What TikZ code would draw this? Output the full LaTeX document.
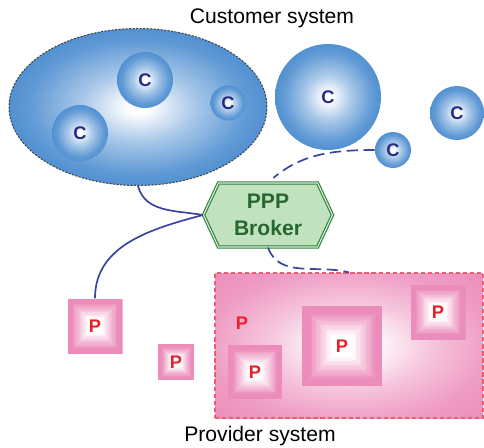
\documentclass[tikz,border=0pt]{standalone}
\usepackage{fontspec}
\setmainfont{Liberation Sans}
\usetikzlibrary{shapes.geometric, shapes.symbols, calc}

\definecolor{cblue}{RGB}{62,132,204}
\definecolor{cnavy}{RGB}{38,44,132}
\definecolor{ppink}{RGB}{236,140,186}
\definecolor{pred}{RGB}{232,32,40}
\definecolor{pborder}{RGB}{238,92,112}
\definecolor{bgreen}{RGB}{50,128,60}
\definecolor{bfill}{RGB}{192,226,190}
\definecolor{bline}{RGB}{58,68,160}

\pgfdeclareradialshading{blueball}{\pgfpoint{0bp}{0bp}}{color(0bp)=(white); color(2bp)=(white); color(11bp)=(cblue!45!white); color(21bp)=(cblue!82!white); color(30bp)=(cblue); color(50bp)=(cblue)}
\pgfdeclareradialshading{pinkglow}{\pgfpoint{0bp}{0bp}}{color(0bp)=(white); color(4bp)=(white); color(15bp)=(ppink!50!white); color(26bp)=(ppink!85!white); color(36bp)=(ppink); color(50bp)=(ppink)}

\begin{document}
\begin{tikzpicture}[
    x=0.025cm, y=-0.025cm,
    custc/.style={circle, shading=blueball, minimum size=#1*0.025cm, inner sep=0pt, text=cnavy, font=\bfseries\fontsize{13}{13}\selectfont},
    custset/.style={ellipse, shading=blueball, draw=black!75, line width=0.7pt, dash pattern=on 1.5pt off 1pt, minimum width=258*0.025cm, minimum height=157*0.025cm},
    provp/.style={rectangle, minimum size=#1*0.025cm, inner sep=0pt, text=pred, font=\bfseries\fontsize{13}{13}\selectfont,
        path picture={
            \foreach \k in {0,...,15}{
                \pgfmathsetmacro\mixp{max(0,min(100,125-11*\k))}
                \pgfmathsetmacro\frac{\k/16}
                \fill[ppink!\mixp!white] ($(path picture bounding box.south west)!\frac!(path picture bounding box.center)$) rectangle ($(path picture bounding box.north east)!\frac!(path picture bounding box.center)$);
            }
        }},
    provset/.style={rectangle, shading=pinkglow, draw=pborder, line width=0.8pt, dash pattern=on 3pt off 2pt, minimum width=268*0.025cm, minimum height=145*0.025cm},
    broker/.style={signal, signal to=west and east, signal pointer angle=130, minimum width=129*0.025cm, minimum height=64*0.025cm, draw=bgreen, line width=0.8pt, double=bfill!60!white, double distance=0.8pt, fill=bfill, text=bgreen!80!black, align=center, font=\bfseries\fontsize{15}{19}\selectfont},
    title/.style={font=\fontsize{15}{18}\selectfont},
    link/.style={draw=bline, line width=1.2pt},
    dlink/.style={link, dash pattern=on 8pt off 4pt}
]
    \useasboundingbox (0,0) rectangle (484,447);

    % customer side
    \node[title] (ctitle) at (272,18) {Customer system};
    \node[custset] (cust) at (138,107) {};
    \node[custc=56] (c1) at (145,80) {C};
    \node[custc=35] (c2) at (228,103) {C};
    \node[custc=56] (c3) at (80,133) {C};
    \node[custc=106] (c4) at (328,97) {C};
    \node[custc=36] (c5) at (393,150) {C};
    \node[custc=54] (c6) at (457,113) {C};

    % broker
    \node[broker] (broker) at (268,215) {PPP\\Broker};

    % provider side
    \node[provset] (prov) at (349,345.5) {};
    \node[text=pred, font=\bfseries\fontsize{13}{13}\selectfont] (p0) at (242,323) {P};
    \node[provp=55] (p1) at (95,326) {P};
    \node[provp=36] (p2) at (176,362) {P};
    \node[provp=54] (p3) at (255,372) {P};
    \node[provp=80] (p4) at (342,346) {P};
    \node[provp=55] (p5) at (438,312) {P};
    \node[title] (ptitle) at (260,436) {Provider system};

    \draw[link] (cust.south) to[out=-75, in=170] (broker.west);
    \draw[link] (broker.west) to[out=195, in=90] (p1.north);
    \draw[dlink, shorten >=5pt] (c5.west) to[out=180, in=40] (broker.north);
    \draw[dlink] (broker.south) to[out=-70, in=165] (prov.north);
\end{tikzpicture}
\end{document}
